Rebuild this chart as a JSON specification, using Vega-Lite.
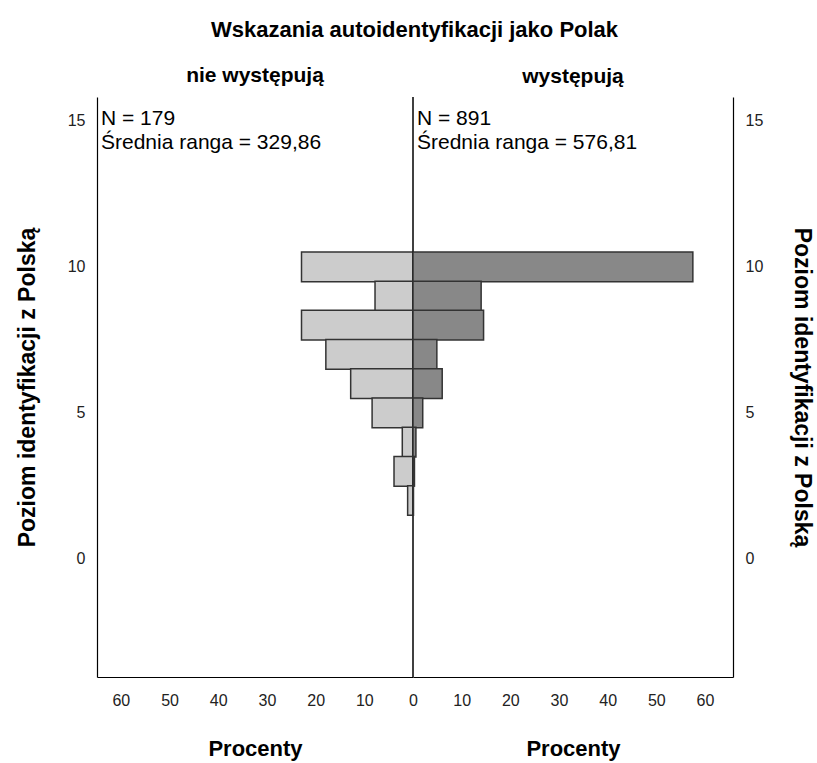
{
  "$schema": "https://vega.github.io/schema/vega-lite/v6.json",
  "padding": {"left": 16, "top": 19, "right": 2, "bottom": 5},
  "bounds": "flush",
  "title": {"text": "Wskazania autoidentyfikacji jako Polak", "fontSize": 22, "font": "Liberation Sans", "fontWeight": "bold", "anchor": "middle", "offset": 23, "color": "#000"},
  "config": {
    "view": {"stroke": null},
    "font": "Liberation Sans",
    "concat": {"spacing": 0},
    "axis": {"grid": false, "ticks": false, "labelFlush": false, "domainColor": "#000", "domainWidth": 1.2, "labelFont": "Liberation Sans", "labelFontSize": 16, "labelColor": "#222", "titleFont": "Liberation Sans", "titleColor": "#000", "titleFontWeight": "bold"}
  },
  "datasets": {
    "left": [
      {"level": 10, "pct": 22.9},
      {"level": 9, "pct": 7.8},
      {"level": 8, "pct": 22.9},
      {"level": 7, "pct": 17.9},
      {"level": 6, "pct": 12.8},
      {"level": 5, "pct": 8.4},
      {"level": 4, "pct": 2.2},
      {"level": 3, "pct": 3.9},
      {"level": 2, "pct": 1.1}
    ],
    "right": [
      {"level": 10, "pct": 57.5},
      {"level": 9, "pct": 14.0},
      {"level": 8, "pct": 14.5},
      {"level": 7, "pct": 4.9},
      {"level": 6, "pct": 6.0},
      {"level": 5, "pct": 2.0},
      {"level": 4, "pct": 0.6},
      {"level": 3, "pct": 0.3},
      {"level": 2, "pct": 0.1}
    ]
  },
  "hconcat": [
    {
      "width": 316,
      "height": 580,
      "title": {"text": "nie występują", "fontSize": 21, "fontWeight": "bold", "offset": 10, "color": "#000"},
      "layer": [
        {
          "data": {"name": "left"},
          "mark": {"type": "bar", "orient": "horizontal", "height": 29.7, "fill": "#cccccc", "stroke": "#333", "strokeWidth": 1.5},
          "encoding": {
            "x": {"field": "pct", "type": "quantitative", "scale": {"domain": [0, 64.9], "reverse": true, "nice": false}, "axis": {"values": [0, 10, 20, 30, 40, 50, 60], "labelPadding": 15, "title": "Procenty", "titleFontSize": 22, "titlePadding": 30}},
            "y": {"field": "level", "type": "quantitative", "scale": {"domain": [-3.87, 15.64], "nice": false, "zero": false}, "axis": {"orient": "left", "values": [0, 5, 10, 15], "labelPadding": 12, "title": "Poziom identyfikacji z Polską", "titleFontSize": 23, "titlePadding": 28}}
          }
        },
        {
          "data": {"values": [{}]},
          "mark": {"type": "rule", "color": "#000", "strokeWidth": 1.5},
          "encoding": {"x": {"datum": 0}}
        },
        {
          "data": {"values": [{}]},
          "mark": {"type": "text", "text": ["N = 179", "Średnia ranga = 329,86"], "align": "left", "baseline": "top", "dx": 4, "dy": 6, "fontSize": 21, "lineHeight": 24, "color": "#000", "font": "Liberation Sans"},
          "encoding": {"x": {"datum": 64.9}, "y": {"datum": 15.64}}
        }
      ]
    },
    {
      "width": 320,
      "height": 580,
      "title": {"text": "występują", "fontSize": 21, "fontWeight": "bold", "offset": 10, "color": "#000"},
      "layer": [
        {
          "data": {"name": "right"},
          "mark": {"type": "bar", "orient": "horizontal", "height": 29.7, "fill": "#888888", "stroke": "#333", "strokeWidth": 1.5},
          "encoding": {
            "x": {"field": "pct", "type": "quantitative", "scale": {"domain": [0, 65.75], "nice": false}, "axis": {"values": [10, 20, 30, 40, 50, 60], "labelPadding": 15, "title": "Procenty", "titleFontSize": 22, "titlePadding": 30}},
            "y": {"field": "level", "type": "quantitative", "scale": {"domain": [-3.87, 15.64], "nice": false, "zero": false}, "axis": {"orient": "right", "values": [0, 5, 10, 15], "labelPadding": 12, "title": "Poziom identyfikacji z Polską", "titleFontSize": 23, "titlePadding": 27}}
          }
        },
        {
          "data": {"values": [{}]},
          "mark": {"type": "text", "text": ["N = 891", "Średnia ranga = 576,81"], "align": "left", "baseline": "top", "dx": 4, "dy": 6, "fontSize": 21, "lineHeight": 24, "color": "#000", "font": "Liberation Sans"},
          "encoding": {"x": {"datum": 0}, "y": {"datum": 15.64}}
        }
      ]
    }
  ]
}
